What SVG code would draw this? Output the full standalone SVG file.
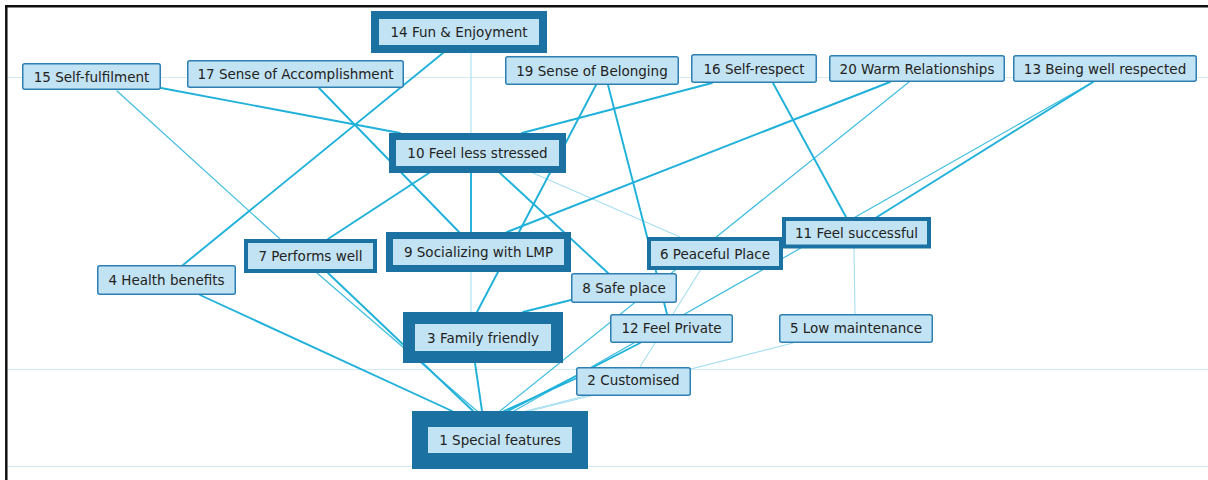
<svg xmlns="http://www.w3.org/2000/svg" width="1208" height="480" viewBox="0 0 1208 480">
  <style>
    .grid { stroke: #d3e9f3; stroke-width: 1; fill: none; }
    .frame { stroke: #111; stroke-width: 2.5; fill: none; }
    .e { fill: none; stroke-linecap: round; }
    .s { stroke: #1fb1da; stroke-width: 1.9; }
    .t { stroke: #3ebde0; stroke-width: 1.2; }
    .f { stroke: #a6def0; stroke-width: 1.1; }
    .n rect { fill: #c2e3f3; stroke: #2c7fb1; stroke-width: 1.5; stroke-linejoin: miter; }
    .n.w1 rect { stroke: #1b72a2; stroke-width: 4; }
    .n.w2 rect { stroke: #1b72a2; stroke-width: 7; }
    .n.w3 rect { stroke: #1b72a2; stroke-width: 8; }
    .n.w4 rect { stroke: #1b72a2; stroke-width: 12; }
    .n.w5 rect { stroke: #1b72a2; stroke-width: 16; }
    .n text { font-family: Verdana, "DejaVu Sans", sans-serif; font-size: 13.5px; fill: #222; text-anchor: middle; dominant-baseline: central; }
  </style>

  <rect x="0" y="0" width="1208" height="480" fill="#fff"/>

  <!-- background guide lines -->
  <g id="grid">
    <line class="grid" x1="8" y1="77.5" x2="1208" y2="77.5"/>
    <line class="grid" x1="8" y1="369.5" x2="1208" y2="369.5"/>
    <line class="grid" x1="8" y1="466.5" x2="1208" y2="466.5" stroke="#e2f0f8"/>
  </g>

  <!-- connectors -->
  <g id="edges">
    <line class="e f" x1="471" y1="53" x2="471" y2="312"/>
    <line class="e f" x1="533" y1="173" x2="680" y2="237"/>
    <line class="e f" x1="721" y1="237" x2="640" y2="367"/>
    <line class="e f" x1="854" y1="248" x2="855" y2="314"/>
    <line class="e f" x1="793" y1="343" x2="526" y2="411"/>
    <line class="e f" x1="590" y1="396" x2="530" y2="411"/>
    <line class="e t" x1="117" y1="91" x2="280" y2="239"/>
    <line class="e t" x1="909" y1="82" x2="500" y2="411"/>
    <line class="e t" x1="1093" y1="82" x2="514" y2="411"/>
    <line class="e t" x1="317" y1="273" x2="477" y2="411"/>
    <line class="e s" x1="443" y1="53" x2="183" y2="265"/>
    <line class="e s" x1="471" y1="173" x2="471" y2="232"/>
    <line class="e s" x1="161" y1="88" x2="400" y2="133"/>
    <line class="e s" x1="319" y1="88" x2="459" y2="232"/>
    <line class="e s" x1="429" y1="173" x2="328" y2="239"/>
    <line class="e s" x1="500" y1="173" x2="608" y2="273"/>
    <line class="e s" x1="596" y1="85" x2="519" y2="232"/>
    <line class="e s" x1="608" y1="85" x2="667" y2="314"/>
    <line class="e s" x1="712" y1="83" x2="522" y2="133"/>
    <line class="e s" x1="773" y1="83" x2="846" y2="217"/>
    <line class="e s" x1="890" y1="82" x2="507" y2="232"/>
    <line class="e s" x1="1093" y1="82" x2="877" y2="217"/>
    <line class="e s" x1="498" y1="272" x2="477" y2="312"/>
    <line class="e s" x1="571" y1="300" x2="523" y2="312"/>
    <line class="e s" x1="640" y1="343" x2="508" y2="411"/>
    <line class="e s" x1="577" y1="378" x2="504" y2="411"/>
    <line class="e s" x1="200" y1="295" x2="452" y2="411"/>
    <line class="e s" x1="328" y1="273" x2="473" y2="411"/>
    <line class="e s" x1="475" y1="363" x2="482" y2="411"/>
  </g>

  <!-- nodes -->
  <g id="node-14" class="n w3"><rect x="375" y="15" width="168" height="34"/><text x="459" y="32">14 Fun &amp; Enjoyment</text></g>
  <g id="node-15" class="n"><rect x="22.75" y="63.75" width="137.5" height="25.5" rx="2"/><text x="91.5" y="76.5">15 Self-fulfilment</text></g>
  <g id="node-17" class="n"><rect x="187.75" y="60.75" width="215.5" height="26.5" rx="2"/><text x="295.5" y="74">17 Sense of Accomplishment</text></g>
  <g id="node-19" class="n"><rect x="505.75" y="56.75" width="172.5" height="27.5" rx="2"/><text x="592" y="70.5">19 Sense of Belonging</text></g>
  <g id="node-16" class="n"><rect x="691.75" y="54.75" width="124.5" height="27.5" rx="2"/><text x="754" y="68.5">16 Self-respect</text></g>
  <g id="node-20" class="n"><rect x="829.75" y="55.75" width="174.5" height="25.5" rx="2"/><text x="917" y="68.5">20 Warm Relationships</text></g>
  <g id="node-13" class="n"><rect x="1013.75" y="55.75" width="182.5" height="25.5" rx="2"/><text x="1105" y="68.5">13 Being well respected</text></g>
  <g id="node-10" class="n w2"><rect x="392.5" y="136.5" width="170" height="33"/><text x="477.5" y="153">10 Feel less stressed</text></g>
  <g id="node-9" class="n w2"><rect x="389.5" y="235.5" width="178" height="33"/><text x="478.5" y="251.5">9 Socializing with LMP</text></g>
  <g id="node-7" class="n w1"><rect x="246" y="241" width="129" height="30"/><text x="310.5" y="256">7 Performs well</text></g>
  <g id="node-4" class="n"><rect x="97.75" y="265.75" width="137.5" height="28.5" rx="2"/><text x="166.5" y="279.5">4 Health benefits</text></g>
  <g id="node-11" class="n w1"><rect x="784" y="219" width="145" height="27.5"/><text x="856.5" y="232.5">11 Feel successful</text></g>
  <g id="node-6" class="n w1"><rect x="649" y="239" width="132" height="29"/><text x="715" y="253.5">6 Peaceful Place</text></g>
  <g id="node-8" class="n"><rect x="571.75" y="273.75" width="104.5" height="28.5" rx="2"/><text x="624" y="287.5">8 Safe place</text></g>
  <g id="node-3" class="n w4"><rect x="409" y="318" width="148" height="39"/><text x="483" y="337.5">3 Family friendly</text></g>
  <g id="node-12" class="n"><rect x="610.75" y="314.75" width="121.5" height="27.5" rx="2"/><text x="671.5" y="327.5">12 Feel Private</text></g>
  <g id="node-5" class="n"><rect x="779.75" y="314.75" width="152.5" height="27.5" rx="2"/><text x="856" y="327.5">5 Low maintenance</text></g>
  <g id="node-2" class="n"><rect x="576.75" y="367.75" width="113.5" height="27.5" rx="2"/><text x="633.5" y="380">2 Customised</text></g>
  <g id="node-1" class="n w5"><rect x="420" y="419" width="160" height="42"/><text x="500" y="439.5">1 Special features</text></g>

  <!-- frame -->
  <g id="frame">
    <line class="frame" x1="5" y1="6.3" x2="1208" y2="6.3"/>
    <line class="frame" x1="6.3" y1="5" x2="6.3" y2="480"/>
  </g>
</svg>
